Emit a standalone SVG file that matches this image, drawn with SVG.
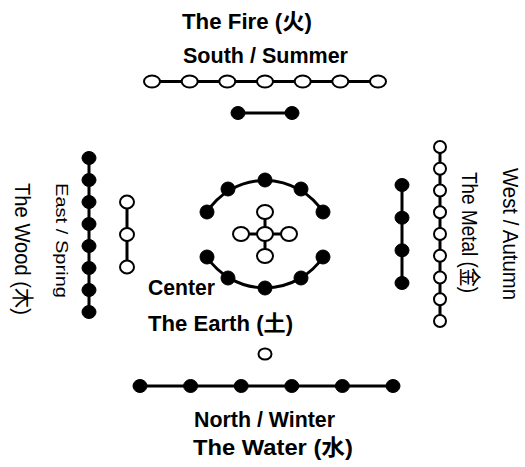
<svg xmlns="http://www.w3.org/2000/svg" width="525" height="467" viewBox="0 0 525 467">
<defs>
<style>
.bg{fill:#fff}
.ln{stroke:#000;stroke-width:3;fill:none;stroke-linecap:round}
.o{fill:#fff;stroke:#000;stroke-width:2}
.f{fill:#000;stroke:#000;stroke-width:1}
.t{font-family:"Liberation Sans",Arial,"Noto Sans CJK SC",sans-serif;font-size:22px;font-weight:bold;fill:#000}
.v{font-family:"Liberation Sans",Arial,"Noto Sans CJK SC",sans-serif;font-weight:normal;fill:#000}
</style>
</defs>
<rect class="bg" x="0" y="0" width="525" height="467"/>
<g id="connectors">
<line class="ln" x1="152" y1="81.5" x2="378" y2="81.5"/>
<line class="ln" x1="238" y1="113" x2="292" y2="113"/>
<line class="ln" x1="89" y1="158" x2="89" y2="312"/>
<line class="ln" x1="127" y1="202" x2="127" y2="267"/>
<line class="ln" x1="402" y1="185" x2="402" y2="283"/>
<line class="ln" x1="440" y1="147" x2="440" y2="321"/>
<line class="ln" x1="140" y1="386" x2="393" y2="386"/>
<line class="ln" x1="241" y1="234" x2="289" y2="234"/>
<line class="ln" x1="265" y1="212" x2="265" y2="256"/>
<path class="ln" d="M207,212 A69,69 0 0 1 323,212"/>
<path class="ln" d="M207,257 A70,70 0 0 0 323,257"/>
</g>
<g id="fire-seven">
<ellipse class="o" cx="152" cy="81.5" rx="8" ry="6"/>
<ellipse class="o" cx="189.7" cy="81.5" rx="8" ry="6"/>
<ellipse class="o" cx="227.3" cy="81.5" rx="8" ry="6"/>
<ellipse class="o" cx="265" cy="81.5" rx="8" ry="6"/>
<ellipse class="o" cx="302.7" cy="81.5" rx="8" ry="6"/>
<ellipse class="o" cx="340.3" cy="81.5" rx="8" ry="6"/>
<ellipse class="o" cx="378" cy="81.5" rx="8" ry="6"/>
</g>
<g id="fire-two">
<ellipse class="f" cx="238" cy="113" rx="7" ry="6.5"/>
<ellipse class="f" cx="292" cy="113" rx="7" ry="6.5"/>
</g>
<g id="wood-eight">
<ellipse class="f" cx="89" cy="158" rx="7" ry="6.5"/>
<ellipse class="f" cx="89" cy="180" rx="7" ry="6.5"/>
<ellipse class="f" cx="89" cy="202" rx="7" ry="6.5"/>
<ellipse class="f" cx="89" cy="224" rx="7" ry="6.5"/>
<ellipse class="f" cx="89" cy="246" rx="7" ry="6.5"/>
<ellipse class="f" cx="89" cy="268" rx="7" ry="6.5"/>
<ellipse class="f" cx="89" cy="290" rx="7" ry="6.5"/>
<ellipse class="f" cx="89" cy="312" rx="7" ry="6.5"/>
</g>
<g id="wood-three">
<ellipse class="o" cx="127" cy="202" rx="7" ry="6.5"/>
<ellipse class="o" cx="127" cy="234.5" rx="7" ry="6.5"/>
<ellipse class="o" cx="127" cy="267" rx="7" ry="6.5"/>
</g>
<g id="metal-four">
<ellipse class="f" cx="402" cy="185" rx="7" ry="6.5"/>
<ellipse class="f" cx="402" cy="217.7" rx="7" ry="6.5"/>
<ellipse class="f" cx="402" cy="250.3" rx="7" ry="6.5"/>
<ellipse class="f" cx="402" cy="283" rx="7" ry="6.5"/>
</g>
<g id="metal-nine">
<ellipse class="o" cx="440" cy="147" rx="6" ry="6"/>
<ellipse class="o" cx="440" cy="168.75" rx="6" ry="6"/>
<ellipse class="o" cx="440" cy="190.5" rx="6" ry="6"/>
<ellipse class="o" cx="440" cy="212.25" rx="6" ry="6"/>
<ellipse class="o" cx="440" cy="234" rx="6" ry="6"/>
<ellipse class="o" cx="440" cy="255.75" rx="6" ry="6"/>
<ellipse class="o" cx="440" cy="277.5" rx="6" ry="6"/>
<ellipse class="o" cx="440" cy="299.25" rx="6" ry="6"/>
<ellipse class="o" cx="440" cy="321" rx="6" ry="6"/>
</g>
<g id="earth-five">
<ellipse class="o" cx="265" cy="234" rx="8" ry="7"/>
<ellipse class="o" cx="265" cy="212" rx="8" ry="7"/>
<ellipse class="o" cx="265" cy="256" rx="8" ry="7"/>
<ellipse class="o" cx="241" cy="234" rx="8" ry="7"/>
<ellipse class="o" cx="289" cy="234" rx="8" ry="7"/>
</g>
<g id="earth-ten">
<ellipse class="f" cx="207" cy="212" rx="7" ry="7"/>
<ellipse class="f" cx="228" cy="189" rx="7" ry="7"/>
<ellipse class="f" cx="265" cy="180" rx="7" ry="7"/>
<ellipse class="f" cx="301" cy="189" rx="7" ry="7"/>
<ellipse class="f" cx="323" cy="212" rx="7" ry="7"/>
<ellipse class="f" cx="207" cy="257" rx="7" ry="7"/>
<ellipse class="f" cx="228" cy="278" rx="7" ry="7"/>
<ellipse class="f" cx="265" cy="288" rx="7" ry="7"/>
<ellipse class="f" cx="301" cy="278" rx="7" ry="7"/>
<ellipse class="f" cx="323" cy="257" rx="7" ry="7"/>
</g>
<g id="water-one">
<ellipse class="o" cx="265" cy="354" rx="6.5" ry="5.5"/>
</g>
<g id="water-six">
<ellipse class="f" cx="140" cy="386" rx="7" ry="6.5"/>
<ellipse class="f" cx="190.6" cy="386" rx="7" ry="6.5"/>
<ellipse class="f" cx="241.2" cy="386" rx="7" ry="6.5"/>
<ellipse class="f" cx="291.8" cy="386" rx="7" ry="6.5"/>
<ellipse class="f" cx="342.4" cy="386" rx="7" ry="6.5"/>
<ellipse class="f" cx="393" cy="386" rx="7" ry="6.5"/>
</g>
<g id="labels">
<text class="t" x="182" y="29" textLength="130" lengthAdjust="spacingAndGlyphs">The Fire (火)</text>
<text class="t" x="183" y="63" textLength="165" lengthAdjust="spacingAndGlyphs">South / Summer</text>
<text class="t" x="148" y="295" textLength="67" lengthAdjust="spacingAndGlyphs">Center</text>
<text class="t" x="148" y="331" textLength="145" lengthAdjust="spacingAndGlyphs">The Earth (土)</text>
<text class="t" x="194" y="427" textLength="141" lengthAdjust="spacingAndGlyphs">North / Winter</text>
<text class="t" x="193" y="455" textLength="160" lengthAdjust="spacingAndGlyphs">The Water (水)</text>
<text class="v" font-size="17" transform="translate(56,183) rotate(90)" textLength="115" lengthAdjust="spacingAndGlyphs">East / Spring</text>
<text class="v" font-size="22" transform="translate(15,183) rotate(90)" textLength="132" lengthAdjust="spacingAndGlyphs">The Wood (木)</text>
<text class="v" font-size="22" transform="translate(503,168) rotate(90)" textLength="132" lengthAdjust="spacingAndGlyphs">West / Autumn</text>
<text class="v" font-size="22" transform="translate(462,172) rotate(90)" textLength="121" lengthAdjust="spacingAndGlyphs">The Metal (金)</text>
</g>
</svg>
